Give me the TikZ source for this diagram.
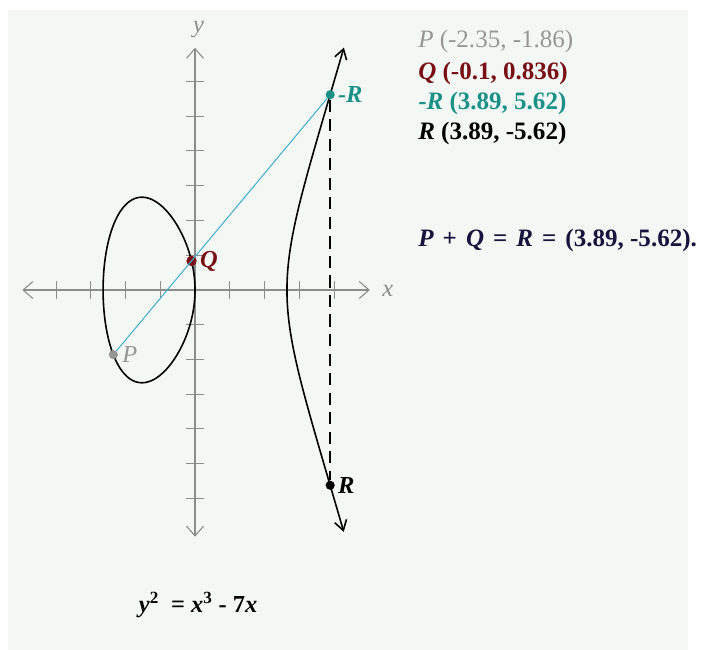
\documentclass[tikz,border=0pt]{standalone}
\usepackage{fontspec}
\setmainfont{Liberation Serif}
\usepackage{xcolor}
\usetikzlibrary{arrows.meta, positioning}

\definecolor{bgtint}{RGB}{244,248,244}
\definecolor{axisgray}{RGB}{140,140,140}
\definecolor{pgray}{RGB}{150,150,150}
\definecolor{qred}{RGB}{120,15,20}
\definecolor{rteal}{RGB}{25,145,135}
\definecolor{linecyan}{RGB}{60,170,205}
\definecolor{sumnavy}{RGB}{20,20,60}

\newcommand{\opgap}{\hspace{7.4pt}}

\tikzset{
  axisline/.style={axisgray, line width=0.9pt, {Straight Barb[length=8pt,width=14pt]}-{Straight Barb[length=8pt,width=14pt]}},
  tickmark/.style={axisgray, line width=0.8pt},
  curveline/.style={black, line width=1.3pt},
  ptdot/.style={circle, fill, inner sep=0pt, minimum size=7.5pt},
  ptlabel/.style={font=\fontsize{20}{24}\selectfont\bfseries\itshape},
  infoline/.style={anchor=west, font=\fontsize{20.5}{24}\selectfont}
}

\begin{document}
\begin{tikzpicture}[x=1cm, y=1cm]
  % Canvas
  \useasboundingbox (-5.612,-10.36) rectangle (14.705,8.345);
  \fill[white] (-5.612,-10.36) rectangle (14.705,8.345);
  \fill[bgtint] (-5.381,-10.36) rectangle (14.187,8.058);

  % Axes
  \draw[axisline] (-4.97,0) -- (5.03,0);
  \draw[axisline] (0,-7.1) -- (0,6.97);
  \node[axisgray, font=\fontsize{20}{24}\selectfont\itshape] (xlab) at (5.55,-0.02) {x};
  \node[axisgray, font=\fontsize{20}{24}\selectfont\itshape] (ylab) at (0.1,7.5) {y};

  % Ticks
  \foreach \t in {-4,-3,-2,-1,1,2,3,4}
    \draw[tickmark] (\t,-0.25) -- (\t,0.25);
  \foreach \t in {-6,-5,-4,-3,-2,-1,1,2,3,4,5,6}
    \draw[tickmark] (-0.27,\t) -- (0.27,\t);

  % Curve y^2 = x^3 - 7x, right branch
  \draw[curveline, {Straight Barb[length=8pt,width=10pt]}-{Straight Barb[length=8pt,width=10pt]}]
    plot[smooth, domain=-1.28:1.28, samples=120, variable=\s]
    ({2.6458+\s*\s}, {-\s*sqrt((2.6458+\s*\s)*(5.2915+\s*\s))});

  % Curve, closed loop
  \draw[curveline] plot[smooth cycle, domain=0:357, samples=120, variable=\a]
    ({-2.6458*sin(\a/2)*sin(\a/2)}, {2.152*sin(\a)*sqrt(1+sin(\a/2)*sin(\a/2))});

  % Points
  \node[ptdot, pgray] (P) at (-2.35,-1.86) {};
  \node[ptdot, qred, minimum size=8.5pt] (Q) at (-0.1,0.836) {};
  \node[ptdot, rteal] (mR) at (3.89,5.62) {};
  \node[ptdot, black] (R) at (3.89,-5.62) {};

  % Chord and reflection
  \draw[linecyan, line width=0.8pt] (P) -- (mR);
  \draw[black, line width=1.4pt, dash pattern=on 10pt off 6pt] (mR) -- (R);

  % Point labels
  \node[pgray, font=\fontsize{20}{24}\selectfont\itshape, right=0pt of P] (Plab) {P};
  \node[qred, ptlabel, right=-1pt of Q] (Qlab) {Q};
  \node[rteal, ptlabel, right=-1pt of mR] (mRlab) {-R};
  \node[black, ptlabel, right=-1pt of R] (Rlab) {R};

  % Coordinates list
  \node[infoline, pgray] (infoP) at (6.3,7.16) {\textit{P} (-2.35, -1.86)};
  \node[infoline, qred] (infoQ) at (6.3,6.24) {\bfseries\textit{Q} (-0.1, 0.836)};
  \node[infoline, rteal] (infomR) at (6.3,5.37) {\bfseries-\textit{R} (3.89, 5.62)};
  \node[infoline, black] (infoR) at (6.3,4.51) {\bfseries\textit{R} (3.89, -5.62)};
  \node[infoline, sumnavy] (sum) at (6.3,1.42) {\bfseries\textit{P}\opgap+\opgap\textit{Q}\opgap=\opgap\textit{R}\opgap=\opgap(3.89, -5.62).};

  % Equation
  \node[font=\fontsize{20}{24}\selectfont\bfseries] (eqn) at (0.09,-9.06) {\textit{y}\textsuperscript{2} \ = \textit{x}\textsuperscript{3} - 7\textit{x}};
\end{tikzpicture}
\end{document}
